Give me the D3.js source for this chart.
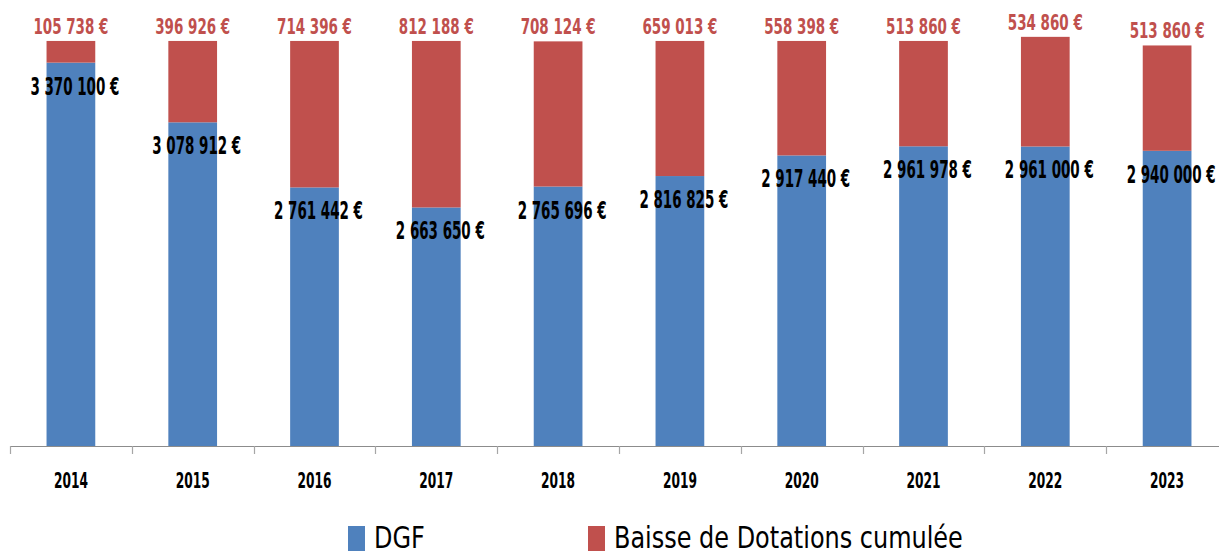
<!DOCTYPE html>
<html>
<head>
<meta charset="utf-8">
<script src="https://cdn.jsdelivr.net/npm/d3@7/dist/d3.min.js"></script>
<style>
  html, body { margin: 0; padding: 0; background: #fff; }
  svg { display: block; }
  .narrow { font-family: "Liberation Sans Narrow", "Arial Narrow", "DejaVu Sans Condensed", sans-serif; }
</style>
</head>
<body>
<svg id="chart" width="1219" height="555"></svg>
<script>
const years = ["2014", "2015", "2016", "2017", "2018", "2019", "2020", "2021", "2022", "2023"];
const dgf = [3370100, 3078912, 2761442, 2663650, 2765696, 2816825, 2917440, 2961978, 2961000, 2940000];
const baisse = [105738, 396926, 714396, 812188, 708124, 659013, 558398, 513860, 534860, 513860];
const seriesNames = ["DGF", "Baisse de Dotations cumulée"];
const yDomain = [1500000, 3500000];

const W = 1219, H = 555;
const colors = ["#4F81BD", "#C0504D"];
const svg = d3.select("#chart");

const x = d3.scaleBand().domain(years).range([10, 1228]).paddingInner(0.6).paddingOuter(0.3);
const y = d3.scaleLinear().domain(yDomain).range([446, 36]);

const locale = d3.formatLocale({ decimal: ",", thousands: "\u00a0", grouping: [3], currency: ["", "\u00a0€"] });
const fmt = locale.format("$,.0f");

const rows = years.map((yr, i) => ({ year: yr, dgf: dgf[i], baisse: baisse[i] }));
const stack = d3.stack().keys(["dgf", "baisse"])(rows);

// bars
stack.forEach((layer, li) => {
  svg.append("g").selectAll("rect").data(layer).join("rect")
    .attr("x", d => x(d.data.year))
    .attr("width", x.bandwidth())
    .attr("y", d => y(d[1]))
    .attr("height", d => y(Math.max(d[0], yDomain[0])) - y(d[1]))
    .attr("fill", colors[li]);
});

// horizontally compress a group of texts so that a reference text reaches a target width
function fitGroup(sel, refIndex, targetWidth) {
  const nodes = sel.nodes();
  const w = nodes[refIndex].getComputedTextLength();
  const sx = Math.min(1.2, targetWidth / w);
  sel.each(function () {
    const t = d3.select(this);
    t.attr("transform", `translate(${t.attr("data-x")},${t.attr("data-y")}) scale(${sx},1)`);
  });
}

function addText(g, cls, xx, yy, txt, anchor) {
  return g.append("text").attr("class", "narrow " + cls)
    .attr("data-x", xx).attr("data-y", yy)
    .attr("transform", `translate(${xx},${yy})`)
    .attr("text-anchor", anchor || "middle").text(txt);
}

// axis
const axisG = svg.append("g");
axisG.append("line").attr("x1", 10).attr("x2", W).attr("y1", 446.5).attr("y2", 446.5)
  .attr("stroke", "#8c8c8c").attr("stroke-width", 1.2);
const step = x.step();
const bounds = d3.range(years.length + 1).map(k => x(years[0]) - x.paddingOuter() * step + k * step);
axisG.selectAll("line.tick").data(bounds).join("line").attr("class", "tick")
  .attr("x1", d => Math.round(d) + 0.5).attr("x2", d => Math.round(d) + 0.5)
  .attr("y1", 446).attr("y2", 454).attr("stroke", "#a6a6a6").attr("stroke-width", 1.2);
const yearG = axisG.append("g").attr("font-size", 22).attr("font-weight", "bold").attr("fill", "#000");
years.forEach(yr => addText(yearG, "yr", x(yr) + x.bandwidth() / 2, 488, yr));
fitGroup(yearG.selectAll("text"), 0, 34);

// red labels (top of stack)
const redG = svg.append("g").attr("fill", "#C0504D").attr("font-size", 21).attr("font-weight", "bold");
rows.forEach(d => addText(redG, "red", x(d.year) + x.bandwidth() / 2, y(d.dgf + d.baisse) - 7, fmt(d.baisse)));
fitGroup(redG.selectAll("text"), 0, 75);

// black labels (DGF)
const blkG = svg.append("g").attr("fill", "#000").attr("font-size", 24).attr("font-weight", "bold");
rows.forEach(d => addText(blkG, "blk", x(d.year) + x.bandwidth() / 2 + 4, y(d.dgf) + 32, fmt(d.dgf)));
fitGroup(blkG.selectAll("text"), 3, 89);

// legend
const leg = svg.append("g");
const legX = [348, 588];
const legTextG = leg.append("g").attr("font-size", 31).attr("fill", "#000");
seriesNames.forEach((name, i) => {
  leg.append("rect").attr("x", legX[i]).attr("y", 526).attr("width", 17).attr("height", 25).attr("fill", colors[i]);
  addText(legTextG, "leg", legX[i] + 26, 547.5, name, "start");
});
fitGroup(legTextG.selectAll("text"), 1, 349);
</script>
</body>
</html>
